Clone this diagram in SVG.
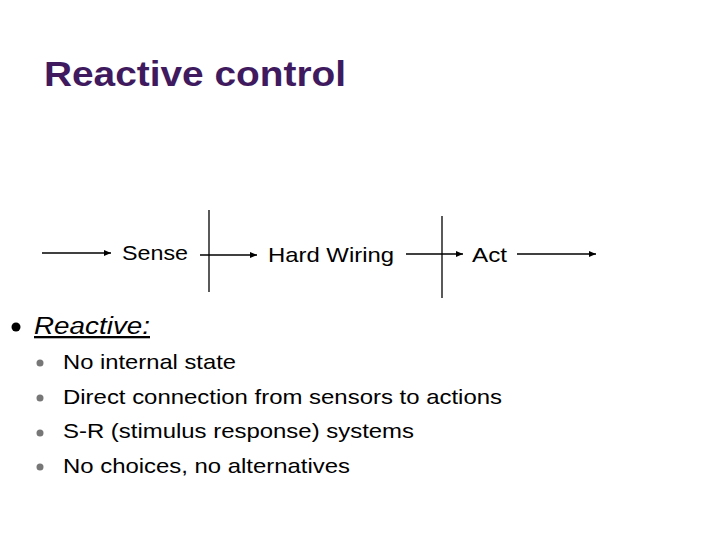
<svg xmlns="http://www.w3.org/2000/svg" width="720" height="540" viewBox="0 0 720 540">
<style>
text{font-family:"Liberation Sans",Arial,sans-serif;fill:#000}
.c line{stroke:#000;stroke-width:1.3}
.l{font-size:21px}
.b{font-size:23px}
</style>
<defs><marker id="a" markerWidth="8" markerHeight="8" refX="7" refY="4" orient="auto" markerUnits="userSpaceOnUse"><path d="M0,1 L7,4 L0,7 z" fill="#000"/></marker></defs>
<rect width="720" height="540" fill="#fff"/>
<text x="44" y="86" textLength="302" lengthAdjust="spacingAndGlyphs" style="font-size:35px;font-weight:bold;fill:#3f1a5e">Reactive control</text>
<g id="sense"><text class="l" x="122" y="260" textLength="66" lengthAdjust="spacingAndGlyphs">Sense</text></g>
<g id="wiring"><text class="l" x="268" y="262" textLength="126" lengthAdjust="spacingAndGlyphs">Hard Wiring</text></g>
<g id="act"><text class="l" x="472" y="262" textLength="35" lengthAdjust="spacingAndGlyphs">Act</text></g>
<g class="c">
<line x1="42" y1="253" x2="111" y2="253" marker-end="url(#a)"/>
<line x1="200" y1="255" x2="257" y2="255" marker-end="url(#a)"/>
<line x1="406" y1="254" x2="463" y2="254" marker-end="url(#a)"/>
<line x1="517" y1="254" x2="596" y2="254" marker-end="url(#a)"/>
<line x1="209" y1="210" x2="209" y2="292"/>
<line x1="442" y1="216" x2="442" y2="298"/>
</g>
<circle cx="16" cy="327" r="4.5" fill="#000"/>
<text x="34" y="334" class="b" textLength="116" lengthAdjust="spacingAndGlyphs" style="font-style:italic;text-decoration:underline">Reactive:</text>
<g fill="#777"><circle cx="40" cy="363" r="3.5"/><circle cx="40" cy="398" r="3.5"/><circle cx="40" cy="433" r="3.5"/><circle cx="40" cy="467" r="3.5"/></g>
<text class="l" x="63" y="369" textLength="173" lengthAdjust="spacingAndGlyphs">No internal state</text>
<text class="l" x="63" y="404" textLength="439" lengthAdjust="spacingAndGlyphs">Direct connection from sensors to actions</text>
<text class="l" x="63" y="438" textLength="351" lengthAdjust="spacingAndGlyphs">S-R (stimulus response) systems</text>
<text class="l" x="63" y="473" textLength="287" lengthAdjust="spacingAndGlyphs">No choices, no alternatives</text>
</svg>
